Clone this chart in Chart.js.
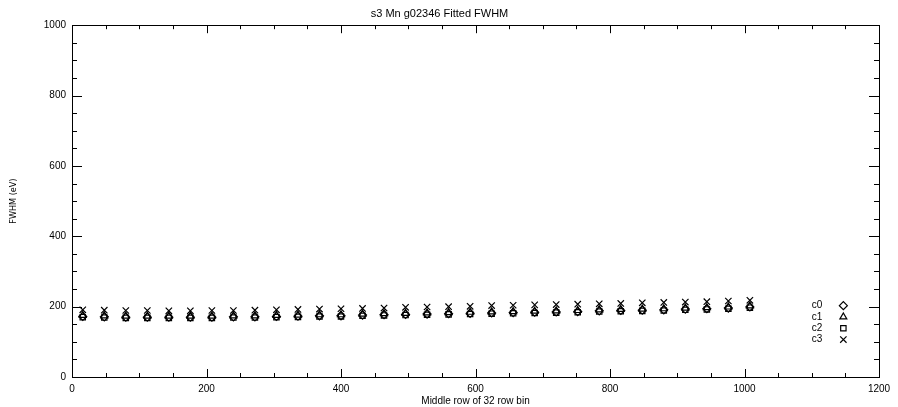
<!DOCTYPE html>
<html>
<head>
<meta charset="utf-8">
<script src="https://cdn.jsdelivr.net/npm/chart.js@4/dist/chart.umd.min.js"></script>
<style>
html,body{margin:0;padding:0;background:#fff;}
#wrap{width:898px;height:407px;}
</style>
</head>
<body>
<div id="wrap"><canvas id="c" width="898" height="407"></canvas></div>
<script>
const rows = [16,48,80,112,144,176,208,240,272,304,336,368,400,432,464,496,528,560,592,624,656,688,720,752,784,816,848,880,912,944,976,1008];
const c0 = [172,171,170,170,170,170,170,171,171,172,173,174,174,176,177,178,179,180,181,182,183,184,185,186,188,189,190,191,193,194,196,199];
const c1 = [175,174,173,173,173,173,173,174,174,175,176,177,177,179,180,181,182,183,184,185,186,187,188,189,191,192,193,194,196,197,199,202];
const c2 = [170,169,168,168,168,168,168,169,169,170,171,172,172,174,175,176,177,178,179,180,181,182,183,184,186,187,188,189,191,192,194,197];
const c3 = [191,190,189,189,188,188,189,189,190,191,192,193,194,195,196,198,199,200,201,203,204,205,206,207,208,209,211,212,213,214,216,218];
const seriesNames = ['c0','c1','c2','c3'];
const seriesStyles = ['rectRot','triangle','rect','crossRot'];
const xTicks = [0,200,400,600,800,1000,1200];
const yTicks = [0,200,400,600,800,1000];
const titleText = 's3 Mn g02346 Fitted FWHM';
const xTitle = 'Middle row of 32 row bin';
const yTitle = 'FWHM (eV)';

const FONT = "'Liberation Sans', 'DejaVu Sans', sans-serif";
const seriesValues = [c0,c1,c2,c3];
const radii = [4,4,3.8,4.5];

const datasets = seriesValues.map((vals,i)=>({
  label: seriesNames[i],
  data: rows.map((r,j)=>({x:r,y:vals[j]})),
  pointStyle: seriesStyles[i],
  pointRadius: radii[i],
  pointBorderColor: '#000',
  pointBackgroundColor: 'rgba(0,0,0,0)',
  pointBorderWidth: 1.2,
  showLine: false
}));

const idlAxes = {
  id: 'idlAxes',
  afterDraw(chart){
    const ctx = chart.ctx;
    const a = chart.chartArea;
    const xs = chart.scales.x, ys = chart.scales.y;
    ctx.save();
    ctx.strokeStyle = '#000';
    ctx.lineWidth = 1;
    ctx.strokeRect(Math.round(a.left)+0.5, Math.round(a.top)+0.5, Math.round(a.right-a.left), Math.round(a.bottom-a.top));
    ctx.beginPath();
    for(let v=0; v<=1200; v+=50){
      const major = v % 200 === 0;
      const len = major ? 8 : 4;
      const px = Math.round(xs.getPixelForValue(v))+0.5;
      ctx.moveTo(px, a.bottom); ctx.lineTo(px, a.bottom-len);
      ctx.moveTo(px, a.top); ctx.lineTo(px, a.top+len);
    }
    for(let v=0; v<=1000; v+=50){
      const major = v % 200 === 0;
      const len = major ? 10 : 5;
      const py = Math.round(ys.getPixelForValue(v))+0.5;
      ctx.moveTo(a.left, py); ctx.lineTo(a.left+len, py);
      ctx.moveTo(a.right, py); ctx.lineTo(a.right-len, py);
    }
    ctx.stroke();
    // legend
    ctx.font = '10px ' + FONT;
    ctx.textBaseline = 'middle';
    ctx.textAlign = 'left';
    const lx = xs.getPixelForValue(1100);
    const sx = xs.getPixelForValue(1147);
    const ly0 = ys.getPixelForValue(200);
    for(let i=0;i<seriesNames.length;i++){
      const y = ly0 + i*11.3 - 1;
      ctx.fillStyle = '#000';
      ctx.fillText(seriesNames[i], lx, y);
      ctx.fillStyle = 'rgba(0,0,0,0)';
      ctx.lineWidth = 1.2;
      ctx.beginPath();
      Chart.helpers.drawPoint(ctx, {pointStyle: seriesStyles[i], radius: radii[i], borderWidth: 1.2, rotation: 0}, sx, y);
    }
    ctx.restore();
  }
};

new Chart(document.getElementById('c'), {
  type: 'scatter',
  data: {datasets},
  plugins: [idlAxes],
  options: {
    responsive: false,
    animation: false,
    devicePixelRatio: 1,
    layout: {padding: {left: 0, right: 19, top: 0, bottom: 0}},
    plugins: {
      legend: {display: false},
      tooltip: {enabled: false},
      title: {
        display: true, text: titleText, color: '#000',
        font: {family: FONT, size: 11, weight: 'normal'},
        padding: {top: 7, bottom: 5}
      }
    },
    scales: {
      x: {
        type: 'linear', min: 0, max: 1200,
        afterBuildTicks(s){ s.ticks = xTicks.map(v=>({value:v})); },
        afterFit(s){ s.height = 30; },
        grid: {display: false, drawTicks: false},
        border: {display: false},
        ticks: {color:'#000', font:{family: FONT, size: 10}, padding: 6, maxRotation: 0, callback: v => String(v)},
        title: {display: true, text: xTitle, color:'#000', font:{family: FONT, size: 10}, padding: {top: 0, bottom: 0}}
      },
      y: {
        type: 'linear', min: 0, max: 1000,
        afterBuildTicks(s){ s.ticks = yTicks.map(v=>({value:v})); },
        afterFit(s){ s.width = 72; },
        grid: {display: false, drawTicks: false},
        border: {display: false},
        ticks: {color:'#000', font:{family: FONT, size: 10}, padding: 6, callback: v => String(v)},
        title: {display: true, text: yTitle, color:'#000', font:{family: "'DejaVu Sans Condensed', 'Liberation Sans Narrow', sans-serif", size: 9}, padding: {top: 8, bottom: 0}}
      }
    }
  }
});
</script>
</body>
</html>
